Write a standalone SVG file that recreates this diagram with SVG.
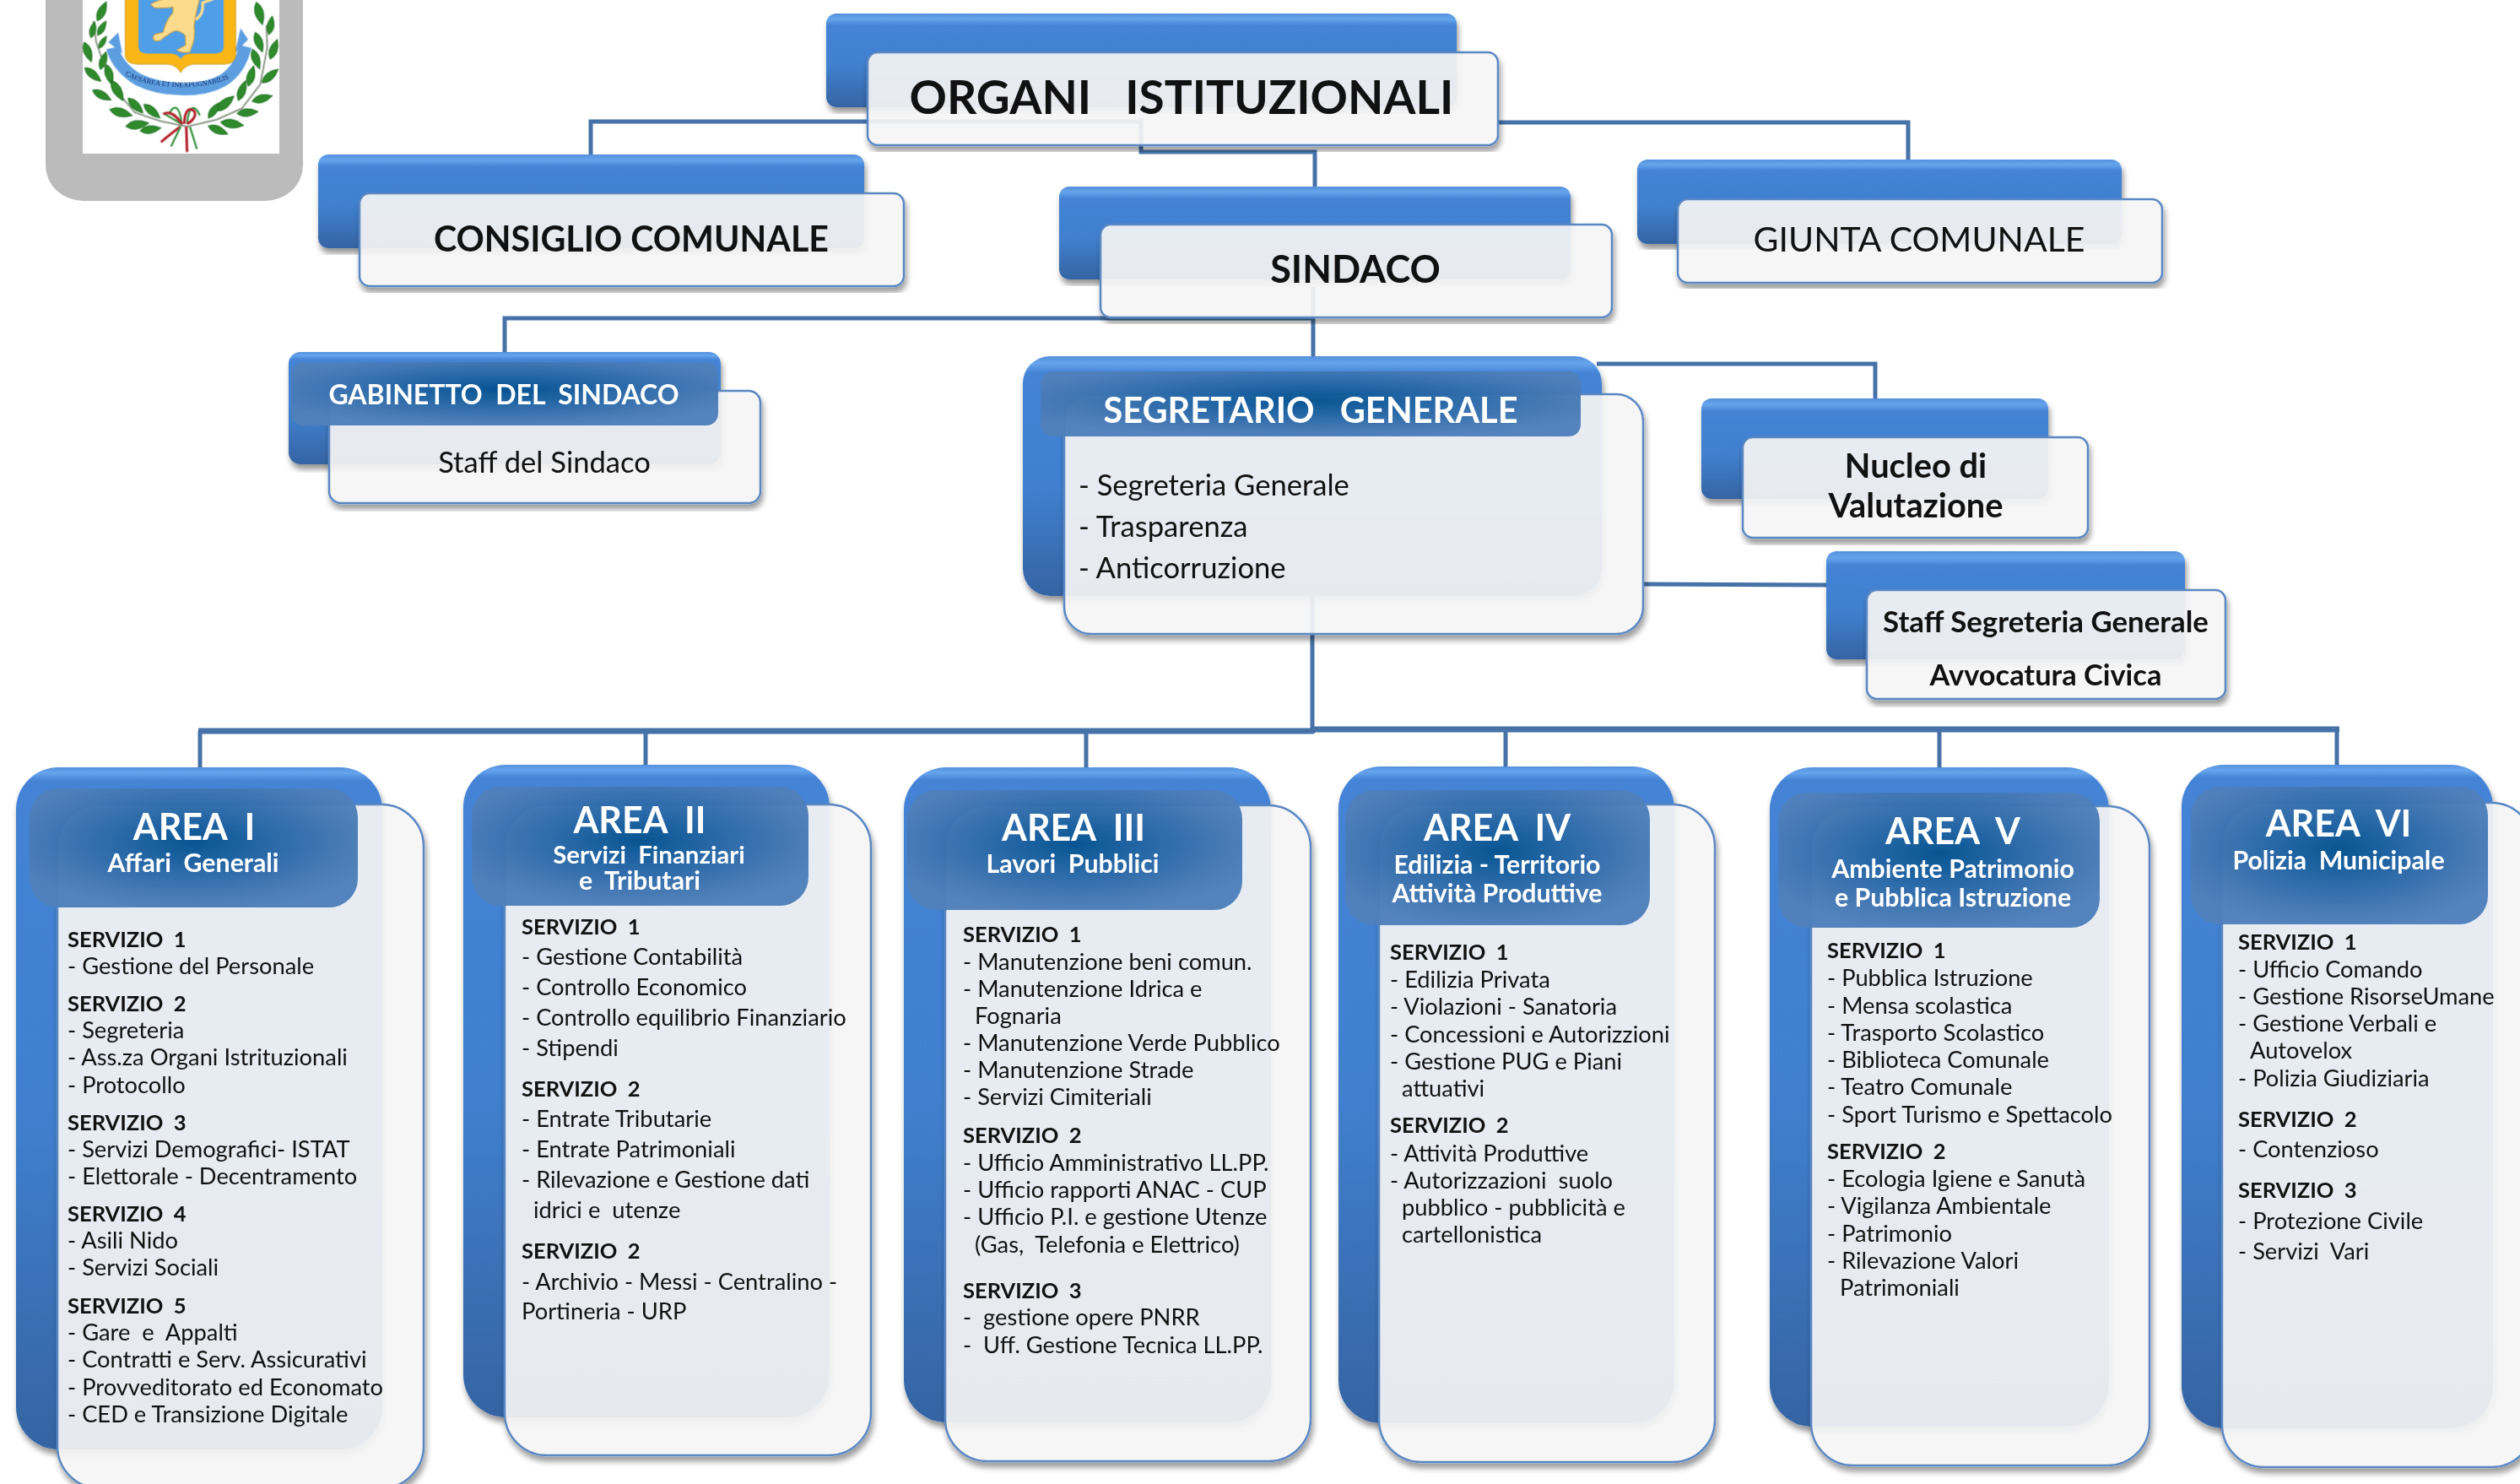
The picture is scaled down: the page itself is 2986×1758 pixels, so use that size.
<svg xmlns="http://www.w3.org/2000/svg" width="2986" height="1758" viewBox="0 0 2986 1758" xml:space="preserve">
<style>
text{font-family:Lato,Carlito,"Open Sans",sans-serif;white-space:pre;fill:#111}
.l{font-size:27.3px}
.s{font-size:25.5px;font-weight:700}
.c{text-anchor:middle}
.w{fill:#fff;font-weight:700}
.a{font-size:43px}
.u{font-size:30.3px}
.k{fill:none;stroke:#4672a8;stroke-width:5}
.wb{fill:#f5f5f5;fill-opacity:.92;stroke:#5a87c2;stroke-width:2.5;filter:url(#sh)}
.bs{fill:url(#gs);filter:url(#sh)}
.bm{fill:url(#gm);filter:url(#sh)}
.bl{fill:url(#gl);filter:url(#sh)}
.h{fill:url(#gh);fill-opacity:.97}
</style>
<defs>
<linearGradient id="gs" x1="0" y1="0" x2="0" y2="1"><stop offset="0" stop-color="#5590dc"/><stop offset=".06" stop-color="#66a5ec"/><stop offset=".13" stop-color="#4483d6"/><stop offset=".55" stop-color="#4080cf"/><stop offset="1" stop-color="#3564a3"/></linearGradient>
<linearGradient id="gm" x1="0" y1="0" x2="0" y2="1"><stop offset="0" stop-color="#5590dc"/><stop offset=".03" stop-color="#66a5ec"/><stop offset=".07" stop-color="#4483d6"/><stop offset=".55" stop-color="#4080cf"/><stop offset="1" stop-color="#3564a3"/></linearGradient>
<linearGradient id="gl" x1="0" y1="0" x2="0" y2="1"><stop offset="0" stop-color="#5590dc"/><stop offset=".008" stop-color="#66a5ec"/><stop offset=".02" stop-color="#4483d6"/><stop offset=".5" stop-color="#4080cf"/><stop offset="1" stop-color="#3564a3"/></linearGradient>
<radialGradient id="gh" cx=".5" cy=".45" r=".58"><stop offset="0" stop-color="#00508f"/><stop offset=".35" stop-color="#1f62a3"/><stop offset=".8" stop-color="#4478b4"/><stop offset="1" stop-color="#4f80bb"/></radialGradient>
<filter id="sh" x="-5%" y="-5%" width="110%" height="112%"><feGaussianBlur in="SourceAlpha" stdDeviation="3.5"/><feOffset dx="1.5" dy="6"/><feComponentTransfer result="b"><feFuncA type="linear" slope=".42"/></feComponentTransfer><feComposite in="b" in2="SourceAlpha" operator="out" result="o"/><feMerge><feMergeNode in="o"/><feMergeNode in="SourceGraphic"/></feMerge></filter>
<filter id="soft"><feGaussianBlur stdDeviation="1.6"/></filter>
<path id="leaf" d="M-38 0Q-8 -28 38 0Q-8 28 -38 0Z" fill="#2f8a2c" stroke="#14611b" stroke-width="2"/>
<path id="rib" d="M165 258C230 318 500 338 585 250" fill="none"/>
</defs>
<rect width="2986" height="1758" fill="#fff"/>
<g id="logo">
<rect x="54" y="-60" width="305" height="298" rx="45" ry="42" fill="#bbb"/>
<rect x="98" y="-10" width="233" height="192" fill="#fff"/>
<g transform="translate(90 0) scale(.33333)" filter="url(#soft)">
<path d="M130 170C140 215 175 255 220 282C300 322 440 332 520 287C570 257 592 210 602 165" fill="none" stroke="#5d9ee0" stroke-width="44"/>
<path d="M115 150L150 115L165 190ZM612 140L585 100L565 190Z" fill="#5d9ee0"/>
<path d="M175 -5V195Q175 225 215 228H325Q360 232 372 258Q385 232 420 228H530Q568 225 568 195V-5Z" fill="#f9b618" stroke="#b9891c" stroke-width="2"/>
<path d="M222 -5V165Q222 190 250 190H340Q362 192 372 210Q382 192 405 190H498Q525 190 525 165V-5Z" fill="#4f9ee8"/>
<path d="M425 70Q455 50 450 10L490 -5" fill="none" stroke="#fbdc8c" stroke-width="10"/>
<path d="M265 15Q300 -5 330 -5L440 -5Q425 50 420 90Q425 140 410 170L405 185Q375 190 358 178L390 160L388 125Q360 100 340 115L310 135Q300 148 280 145Q268 135 280 122L310 115Q320 70 345 45L345 25Q310 30 280 28Z" fill="#fbdc8c" stroke="#d49a2f" stroke-width="3"/>
<path d="M62 75L72 150L100 230L150 330L210 400L300 430L395 450L500 425L590 385L655 300L680 170L677 90" fill="none" stroke="#8d9a88" stroke-width="6"/>
<use href="#leaf" transform="translate(92 40) rotate(-65)"/><use href="#leaf" transform="translate(60 105) rotate(-78) scale(.8)"/><use href="#leaf" transform="translate(92 100) rotate(-60) scale(.8)"/><use href="#leaf" transform="translate(95 150) rotate(-58) scale(.7)"/><use href="#leaf" transform="translate(42 185) rotate(70)"/><use href="#leaf" transform="translate(97 215) rotate(-72) scale(.9)"/><use href="#leaf" transform="translate(60 265) rotate(40)"/><use href="#leaf" transform="translate(118 265) rotate(75)"/><use href="#leaf" transform="translate(92 338) rotate(28)"/><use href="#leaf" transform="translate(147 322) rotate(60) scale(1.1)"/><use href="#leaf" transform="translate(160 400) rotate(15) scale(1.1)"/><use href="#leaf" transform="translate(212 375) rotate(45)"/><use href="#leaf" transform="translate(270 395) rotate(40)"/><use href="#leaf" transform="translate(218 443) rotate(-8) scale(1.1)"/><use href="#leaf" transform="translate(265 460) rotate(-8)"/>
<use href="#leaf" transform="translate(652 48) rotate(75) scale(1.1)"/><use href="#leaf" transform="translate(692 90) rotate(-80) scale(.9)"/><use href="#leaf" transform="translate(650 150) rotate(70)"/><use href="#leaf" transform="translate(703 175) rotate(-70)"/><use href="#leaf" transform="translate(640 210) rotate(70)"/><use href="#leaf" transform="translate(690 270) rotate(-40)"/><use href="#leaf" transform="translate(622 270) rotate(-75)"/><use href="#leaf" transform="translate(662 350) rotate(-15)"/><use href="#leaf" transform="translate(590 322) rotate(-70)"/><use href="#leaf" transform="translate(610 400) rotate(-5)"/><use href="#leaf" transform="translate(530 368) rotate(-40) scale(1.1)"/><use href="#leaf" transform="translate(490 392) rotate(-55) scale(.9)"/><use href="#leaf" transform="translate(555 440) rotate(8) scale(1.1)"/><use href="#leaf" transform="translate(505 462) rotate(22)"/>
<path d="M330 405C350 365 370 380 375 440L315 405M440 410C420 365 400 380 395 440" fill="none" stroke="#3a9140" stroke-width="7"/>
<path d="M310 405C340 390 360 420 378 440M385 440C385 400 400 375 420 395C430 410 415 430 395 440M372 450C350 465 320 490 302 505M392 450L395 540" fill="none" stroke="#b3202a" stroke-width="9"/>
<path d="M372 450L338 520M405 450L430 530" fill="none" stroke="#3a9140" stroke-width="7"/>
</g>
<text transform="translate(90 0) scale(.33333)" font-size="25" style="font-family:'Liberation Serif',serif;fill:#13306a"><textPath href="#rib" startOffset="12">CAESAREA ET INEXPUGNABILIS</textPath></text>
</g>
<g id="connectors">
<path class="k" d="M1352 144H700V183"/>
<path class="k" d="M1775 145H2261V189"/>
<path class="k" d="M1352 140V180H1558V221"/>
<path class="k" d="M1556 377H598V417"/>
<path class="k" d="M1556 340V422"/>
<path class="k" d="M1892 431H2222V472"/>
<path class="k" d="M1947 692L2164 693"/>
<path class="k" d="M1555 706V866"/>
<path class="k" style="stroke-width:7" d="M235 866H1555L1558 864H2772"/>
<path class="k" d="M237 866V909M765 866V906M1287 866V909M1784 866V908M2298 866V909M2769 866V906"/>
</g>
<g id="organi-istituzionali">
<rect class="bs" x="979" y="16" width="747" height="111" rx="12"/>
<rect class="wb" x="1028" y="62" width="747" height="110" rx="12"/>
<text x="1400" y="135" class="c" font-size="55" font-weight="700">ORGANI   ISTITUZIONALI</text>
</g>
<g id="consiglio-comunale">
<rect class="bs" x="377" y="183" width="647" height="111" rx="12"/>
<rect class="wb" x="426" y="229" width="645" height="110" rx="12"/>
<text x="748" y="298" class="c" font-size="41.2" font-weight="700">CONSIGLIO COMUNALE</text>
</g>
<g id="sindaco">
<rect class="bs" x="1255" y="221" width="606" height="110" rx="12"/>
<rect class="wb" x="1304" y="266" width="606" height="110" rx="12"/>
<text x="1606" y="335" class="c" font-size="45" font-weight="700">SINDACO</text>
</g>
<g id="giunta-comunale">
<rect class="bs" x="1940" y="189" width="574" height="100" rx="12"/>
<rect class="wb" x="1988" y="236" width="574" height="99" rx="12"/>
<text x="2274" y="298" class="c" font-size="41">GIUNTA COMUNALE</text>
</g>
<g id="gabinetto">
<rect class="bm" x="342" y="417" width="512" height="133" rx="14"/>
<rect class="wb" x="390" y="463" width="511" height="133" rx="14"/>
<rect class="h" x="345" y="429" width="506" height="75" rx="14"/>
<text x="597" y="479" class="c w" font-size="32" style="fill:#fff">GABINETTO  DEL  SINDACO</text>
<text x="645" y="560" class="c" font-size="34.6">Staff del Sindaco</text>
</g>
<g id="segretario-generale">
<rect class="bm" x="1212" y="422" width="686" height="284" rx="32"/>
<rect class="wb" x="1261" y="467" width="686" height="284" rx="32"/>
<rect class="h" x="1233" y="440" width="640" height="77" rx="14"/>
<text x="1553" y="501" class="c w" font-size="41.5" style="fill:#fff">SEGRETARIO   GENERALE</text>
<text x="1278" y="587" font-size="34.6">- Segreteria Generale</text>
<text x="1278" y="636" font-size="34.6">- Trasparenza</text>
<text x="1278" y="685" font-size="34.6">- Anticorruzione</text>
</g>
<g id="nucleo">
<rect class="bs" x="2016" y="472" width="411" height="119" rx="12"/>
<rect class="wb" x="2065" y="518" width="409" height="119" rx="12"/>
<text x="2270" y="566" class="c" font-size="39.8" font-weight="700">Nucleo di</text>
<text x="2270" y="613" class="c" font-size="39.8" font-weight="700">Valutazione</text>
</g>
<g id="staff-segreteria">
<rect class="bs" x="2164" y="653" width="425" height="128" rx="12"/>
<rect class="wb" x="2212" y="699" width="425" height="129" rx="12"/>
<text x="2424" y="749" class="c" font-size="34.8" font-weight="700">Staff Segreteria Generale</text>
<text x="2424" y="812" class="c" font-size="34.4" font-weight="700">Avvocatura Civica</text>
</g>
<g id="area-1">
<rect class="bl" x="19" y="909" width="434" height="808" rx="50"/>
<rect class="wb" x="68" y="953" width="434" height="810" rx="50"/>
<rect class="h" x="35" y="934" width="389" height="141" rx="34"/>
<text x="230" y="995" class="c w a" style="fill:#fff">AREA  I</text>
<text x="229" y="1033" class="c w u" style="fill:#fff">Affari  Generali</text>
<text x="80" y="1122" class="s">SERVIZIO  1</text>
<text x="80" y="1154" class="l">- Gestione del Personale</text>
<text x="80" y="1198" class="s">SERVIZIO  2</text>
<text x="80" y="1230" class="l">- Segreteria</text>
<text x="80" y="1262" class="l">- Ass.za Organi Istrituzionali</text>
<text x="80" y="1295" class="l">- Protocollo</text>
<text x="80" y="1339" class="s">SERVIZIO  3</text>
<text x="80" y="1371" class="l">- Servizi Demografici- ISTAT</text>
<text x="80" y="1403" class="l">- Elettorale - Decentramento</text>
<text x="80" y="1447" class="s">SERVIZIO  4</text>
<text x="80" y="1479" class="l">- Asili Nido</text>
<text x="80" y="1511" class="l">- Servizi Sociali</text>
<text x="80" y="1556" class="s">SERVIZIO  5</text>
<text x="80" y="1588" class="l">- Gare  e  Appalti</text>
<text x="80" y="1620" class="l">- Contratti e Serv. Assicurativi</text>
<text x="80" y="1653" class="l">- Provveditorato ed Economato</text>
<text x="80" y="1685" class="l">- CED e Transizione Digitale</text>
</g>
<g id="area-2">
<rect class="bl" x="549" y="906" width="434" height="773" rx="50"/>
<rect class="wb" x="598" y="953" width="434" height="771" rx="50"/>
<rect class="h" x="559" y="932" width="399" height="141" rx="34"/>
<text x="758" y="987" class="c w a" style="fill:#fff">AREA  II</text>
<text x="769" y="1023" class="c w" font-size="29.4" style="fill:#fff">Servizi  Finanziari</text>
<text x="758" y="1054" class="c w u" style="fill:#fff">e  Tributari</text>
<text x="618" y="1107" class="s">SERVIZIO  1</text>
<text x="618" y="1143" class="l">- Gestione Contabilità</text>
<text x="618" y="1179" class="l">- Controllo Economico</text>
<text x="618" y="1215" class="l">- Controllo equilibrio Finanziario</text>
<text x="618" y="1251" class="l">- Stipendi</text>
<text x="618" y="1299" class="s">SERVIZIO  2</text>
<text x="618" y="1335" class="l">- Entrate Tributarie</text>
<text x="618" y="1371" class="l">- Entrate Patrimoniali</text>
<text x="618" y="1407" class="l">- Rilevazione e Gestione dati</text>
<text x="632" y="1443" class="l">idrici e  utenze</text>
<text x="618" y="1491" class="s">SERVIZIO  2</text>
<text x="618" y="1528" class="l">- Archivio - Messi - Centralino -</text>
<text x="618" y="1563" class="l">Portineria - URP</text>
</g>
<g id="area-3">
<rect class="bl" x="1071" y="909" width="435" height="776" rx="50"/>
<rect class="wb" x="1120" y="954" width="433" height="777" rx="50"/>
<rect class="h" x="1075" y="936" width="397" height="142" rx="34"/>
<text x="1272" y="996" class="c w a" style="fill:#fff">AREA  III</text>
<text x="1271" y="1034" class="c w u" style="fill:#fff">Lavori  Pubblici</text>
<text x="1141" y="1116" class="s">SERVIZIO  1</text>
<text x="1141" y="1149" class="l">- Manutenzione beni comun.</text>
<text x="1141" y="1181" class="l">- Manutenzione Idrica e</text>
<text x="1155" y="1213" class="l">Fognaria</text>
<text x="1141" y="1245" class="l">- Manutenzione Verde Pubblico</text>
<text x="1141" y="1277" class="l">- Manutenzione Strade</text>
<text x="1141" y="1309" class="l">- Servizi Cimiteriali</text>
<text x="1141" y="1354" class="s">SERVIZIO  2</text>
<text x="1141" y="1387" class="l">- Ufficio Amministrativo LL.PP.</text>
<text x="1141" y="1419" class="l">- Ufficio rapporti ANAC - CUP</text>
<text x="1141" y="1451" class="l">- Ufficio P.I. e gestione Utenze</text>
<text x="1155" y="1484" class="l">(Gas,  Telefonia e Elettrico)</text>
<text x="1141" y="1538" class="s">SERVIZIO  3</text>
<text x="1141" y="1570" class="l">-  gestione opere PNRR</text>
<text x="1141" y="1603" class="l">-  Uff. Gestione Tecnica LL.PP.</text>
</g>
<g id="area-4">
<rect class="bl" x="1586" y="908" width="398" height="778" rx="50"/>
<rect class="wb" x="1634" y="953" width="398" height="779" rx="50"/>
<rect class="h" x="1594" y="936" width="361" height="160" rx="34"/>
<text x="1774" y="996" class="c w a" style="fill:#fff">AREA  IV</text>
<text x="1774" y="1035" class="c w u" style="fill:#fff">Edilizia - Territorio</text>
<text x="1774" y="1069" class="c w u" style="fill:#fff">Attività Produttive</text>
<text x="1647" y="1137" class="s">SERVIZIO  1</text>
<text x="1647" y="1170" class="l">- Edilizia Privata</text>
<text x="1647" y="1202" class="l">- Violazioni - Sanatoria</text>
<text x="1647" y="1235" class="l">- Concessioni e Autorizzioni</text>
<text x="1647" y="1267" class="l">- Gestione PUG e Piani</text>
<text x="1661" y="1299" class="l">attuativi</text>
<text x="1647" y="1342" class="s">SERVIZIO  2</text>
<text x="1647" y="1376" class="l">- Attività Produttive</text>
<text x="1647" y="1408" class="l">- Autorizzazioni  suolo</text>
<text x="1661" y="1440" class="l">pubblico - pubblicità e</text>
<text x="1661" y="1472" class="l">cartellonistica</text>
</g>
<g id="area-5">
<rect class="bl" x="2097" y="909" width="402" height="781" rx="50"/>
<rect class="wb" x="2146" y="955" width="401" height="781" rx="50"/>
<rect class="h" x="2107" y="939" width="381" height="160" rx="34"/>
<text x="2314" y="1000" class="c w a" style="fill:#fff">AREA  V</text>
<text x="2314" y="1040" class="c w u" style="fill:#fff">Ambiente Patrimonio</text>
<text x="2314" y="1074" class="c w u" style="fill:#fff">e Pubblica Istruzione</text>
<text x="2165" y="1135" class="s">SERVIZIO  1</text>
<text x="2165" y="1168" class="l">- Pubblica Istruzione</text>
<text x="2165" y="1201" class="l">- Mensa scolastica</text>
<text x="2165" y="1233" class="l">- Trasporto Scolastico</text>
<text x="2165" y="1265" class="l">- Biblioteca Comunale</text>
<text x="2165" y="1297" class="l">- Teatro Comunale</text>
<text x="2165" y="1330" class="l">- Sport Turismo e Spettacolo</text>
<text x="2165" y="1373" class="s">SERVIZIO  2</text>
<text x="2165" y="1406" class="l">- Ecologia Igiene e Sanutà</text>
<text x="2165" y="1438" class="l">- Vigilanza Ambientale</text>
<text x="2165" y="1471" class="l">- Patrimonio</text>
<text x="2165" y="1503" class="l">- Rilevazione Valori</text>
<text x="2180" y="1535" class="l">Patrimoniali</text>
</g>
<g id="area-6">
<rect class="bl" x="2585" y="906" width="369" height="786" rx="50"/>
<rect class="wb" x="2633" y="951" width="369" height="787" rx="50"/>
<rect class="h" x="2596" y="932" width="352" height="163" rx="34"/>
<text x="2771" y="991" class="c w a" style="fill:#fff">AREA  VI</text>
<text x="2771" y="1030" class="c w u" style="fill:#fff">Polizia  Municipale</text>
<text x="2652" y="1125" class="s">SERVIZIO  1</text>
<text x="2652" y="1158" class="l">- Ufficio Comando</text>
<text x="2652" y="1190" class="l">- Gestione RisorseUmane</text>
<text x="2652" y="1222" class="l">- Gestione Verbali e</text>
<text x="2666" y="1254" class="l">Autovelox</text>
<text x="2652" y="1287" class="l">- Polizia Giudiziaria</text>
<text x="2652" y="1335" class="s">SERVIZIO  2</text>
<text x="2652" y="1371" class="l">- Contenzioso</text>
<text x="2652" y="1419" class="s">SERVIZIO  3</text>
<text x="2652" y="1456" class="l">- Protezione Civile</text>
<text x="2652" y="1492" class="l">- Servizi  Vari</text>
</g>
</svg>
